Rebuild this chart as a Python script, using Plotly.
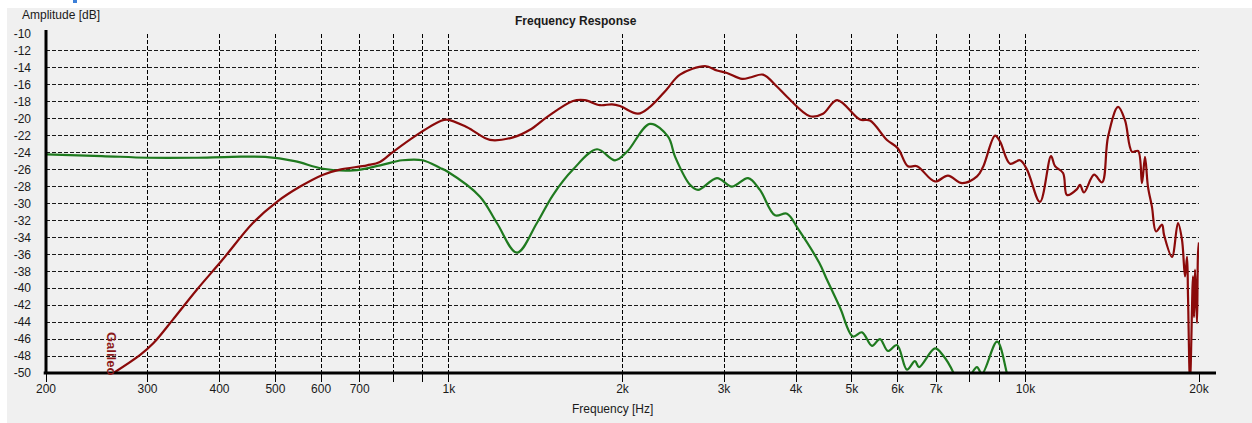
import math
import plotly.graph_objects as go

# Frequency axes (Hz) and levels (dB) of the two measured responses
galileo_freq = [255, 291, 307, 332, 365, 404, 457, 503, 552, 605, 647, 721, 759, 800,
                880, 965, 992, 1075, 1178, 1292, 1382, 1479, 1641, 1720, 1828, 1918,
                1980, 2128, 2232, 2382, 2516, 2781, 2917, 3036, 3224, 3343, 3505, 3705,
                3858, 4230, 4455, 4712, 5164, 5373, 5751, 6010, 6254, 6484, 6966, 7338,
                7762, 8241, 8441, 8857, 9035, 9403, 9786, 10062, 10597, 11075, 11254,
                11620, 11805, 12286, 12434, 12634, 13152, 13580, 13909, 14476, 14885,
                15308, 15680, 15925, 16120, 16311, 16574, 16847, 17255, 17393, 17955,
                18390, 18688, 18914, 19067, 19143, 19295, 19526, 19604, 19684, 19841,
                19921, 20000]
galileo_db = [-50.5, -47.9, -46.5, -43.7, -40.2, -36.7, -32.3, -29.8, -28.0, -26.6, -26.0,
              -25.5, -25.1, -23.9, -21.9, -20.3, -20.1, -21.0, -22.5, -22.2, -21.3, -19.8,
              -17.9, -17.8, -18.4, -18.3, -18.5, -19.4, -18.6, -16.6, -14.8, -13.8, -14.3,
              -14.6, -15.3, -15.1, -14.8, -16.2, -17.4, -19.7, -19.4, -17.8, -20.1, -20.2,
              -22.5, -23.5, -25.6, -25.6, -27.4, -26.7, -27.6, -26.8, -25.7, -22.0, -22.7,
              -25.3, -24.9, -26.0, -29.8, -24.4, -25.6, -26.4, -29.0, -28.3, -27.8, -28.7,
              -26.6, -27.5, -22.1, -18.6, -20.2, -23.9, -23.8, -27.6, -24.5, -28.0, -30.4,
              -33.3, -32.5, -33.7, -36.3, -32.3, -34.3, -38.6, -36.3, -41.0, -51.0, -38.6,
              -43.4, -37.8, -44.1, -35.9, -34.6]

second_freq = [200, 250, 300, 360, 420, 480, 540, 605, 682, 760, 830, 900, 965, 992, 1132,
               1211, 1312, 1421, 1515, 1641, 1806, 1941, 2036, 2232, 2399, 2468, 2619, 2704,
               2917, 3097, 3303, 3463, 3678, 3858, 4033, 4388, 4526, 4769, 5021, 5205, 5417,
               5592, 5774, 5986, 6229, 6432, 6537, 6966, 7192, 7516, 7762, 8078, 8241, 8407,
               8928, 9290, 9500]
second_db = [-24.2, -24.4, -24.6, -24.6, -24.5, -24.5, -25.0, -25.9, -26.1, -25.5, -24.9,
             -24.9, -25.8, -26.2, -29.2, -32.3, -35.8, -32.3, -29.0, -26.0, -23.6, -24.9,
             -23.9, -20.6, -22.1, -24.5, -27.8, -28.4, -27.0, -28.0, -27.0, -28.4, -31.4,
             -31.2, -33.0, -37.0, -39.0, -42.3, -45.7, -45.2, -46.8, -46.0, -47.4, -46.7,
             -49.6, -48.6, -49.3, -47.1, -47.9, -50.1, -53.0, -50.0, -49.3, -50.1, -46.3,
             -50.1, -53.0]

x_tick_vals = [200, 300, 400, 500, 600, 700, 800, 900, 1000, 2000, 3000, 4000, 5000,
               6000, 7000, 8000, 9000, 10000, 20000]
x_tick_text = ["200", "300", "400", "500", "600", "700", "", "", "1k", "2k", "3k", "4k",
               "5k", "6k", "7k", "", "", "10k", "20k"]
y_tick_vals = list(range(-50, -9, 2))
y_tick_text = [str(v) for v in y_tick_vals]

BG = "#F0F0F0"
FONT = "Liberation Sans"
TXT = "#1a1a1a"

fig = go.Figure()
fig.add_trace(go.Scatter(x=second_freq, y=second_db, mode="lines",
                         line=dict(color="#1F7A1F", width=2.2), line_shape="spline",
                         hoverinfo="skip", showlegend=False))
fig.add_trace(go.Scatter(x=galileo_freq, y=galileo_db, mode="lines",
                         line=dict(color="#8B0A0A", width=2.2), line_shape="spline",
                         hoverinfo="skip", showlegend=False))

L, R, T, B = 46, 1199, 34, 373
W, H = 1252, 423
pw, ph = R - L, B - T


def px(x):
    return (x - L) / pw


def py(y):
    return (B - y) / ph


fig.update_layout(
    width=W, height=H,
    margin=dict(l=L, r=W - R, t=T, b=H - B, pad=0),
    paper_bgcolor=BG, plot_bgcolor=BG,
    font=dict(family=FONT, size=12, color=TXT),
    xaxis=dict(type="log", range=[math.log10(200), math.log10(20000)],
               tickmode="array", tickvals=x_tick_vals, ticktext=x_tick_text,
               showgrid=True, gridcolor="#000000", gridwidth=1, griddash="4px,2px",
               ticks="outside", ticklen=8, tickwidth=1, tickcolor="#000000",
               ticklabelstandoff=-3,
               showline=False, zeroline=False, tickfont=dict(size=12, color=TXT)),
    yaxis=dict(range=[-50, -10], tickmode="array", tickvals=y_tick_vals,
               ticktext=y_tick_text, showgrid=True, gridcolor="#1a1a1a", gridwidth=1,
               griddash="4px,2px", ticks="", showline=False, zeroline=False,
               ticklabelstandoff=14, tickfont=dict(size=12, color=TXT)),
    shapes=[
        # heavy axis lines
        dict(type="line", xref="paper", yref="paper", x0=0, x1=0, y0=0, y1=1.012,
             line=dict(color="#000000", width=3)),
        dict(type="line", xref="paper", yref="paper", x0=-0.002, x1=px(1216), y0=0, y1=0,
             line=dict(color="#000000", width=3)),
        # white frame strips along top and left edges
        dict(type="rect", xref="paper", yref="paper", x0=px(-5), x1=px(W + 5),
             y0=py(8), y1=py(-5), fillcolor="#FFFFFF", line=dict(width=0)),
        dict(type="rect", xref="paper", yref="paper", x0=px(-5), x1=px(7),
             y0=py(H + 5), y1=py(-5), fillcolor="#FFFFFF", line=dict(width=0)),
        dict(type="rect", xref="paper", yref="paper", x0=px(73), x1=px(77),
             y0=py(3), y1=py(-1), fillcolor="#3C7FD8", line=dict(width=0)),
    ],
    annotations=[
        dict(text="<b>Frequency Response</b>", xref="paper", yref="paper",
             x=px(576), y=py(21), xanchor="center", yanchor="middle", showarrow=False,
             font=dict(size=12, color=TXT)),
        dict(text="Amplitude [dB]", xref="paper", yref="paper", x=px(20), y=py(15),
             xanchor="left", yanchor="middle", showarrow=False,
             font=dict(size=12, color=TXT)),
        dict(text="Frequency [Hz]", xref="paper", yref="paper", x=px(612), y=py(409),
             xanchor="center", yanchor="middle", showarrow=False,
             font=dict(size=12, color=TXT)),
        dict(text="<b>Galileo</b>", xref="paper", yref="paper", x=px(112), y=py(353),
             xanchor="center", yanchor="middle", showarrow=False, textangle=90,
             font=dict(size=13, color="#8B1A1A")),
    ],
)

fig.write_html("out.html")
